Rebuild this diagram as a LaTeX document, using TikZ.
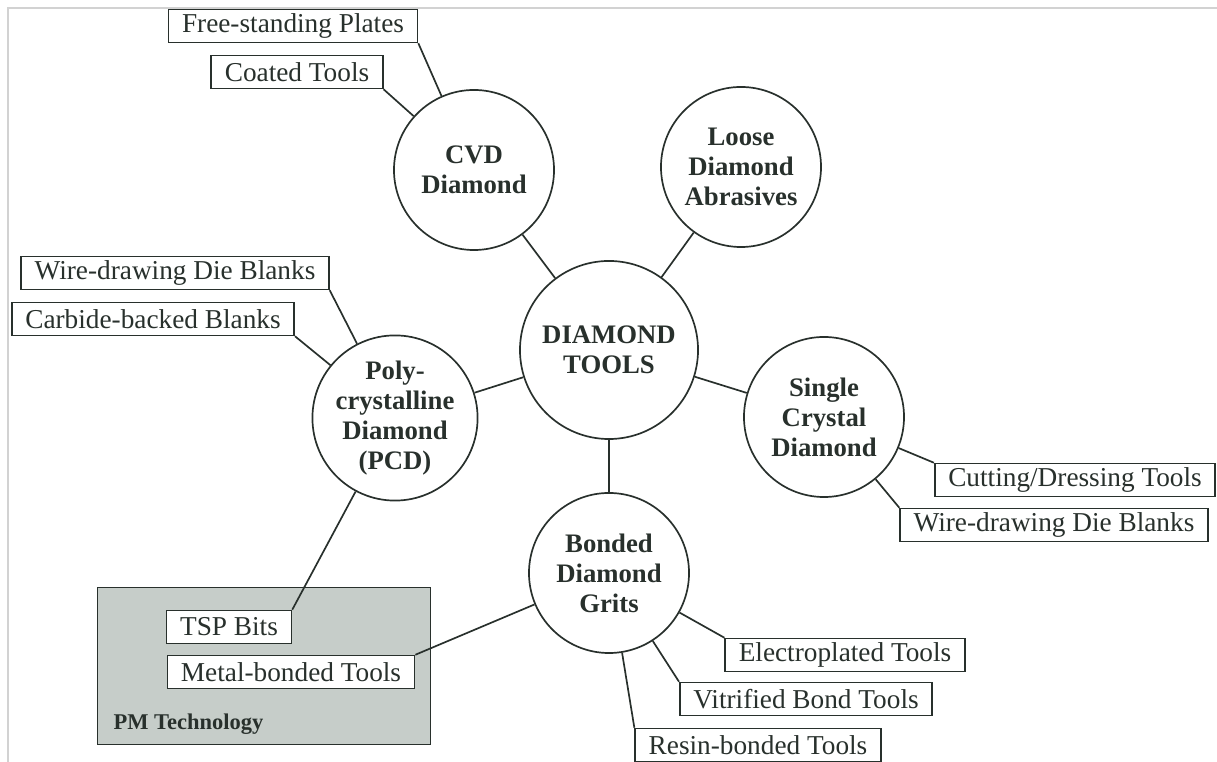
\documentclass[tikz,border=0pt]{standalone}
\usepackage{fontspec}
\setmainfont{Liberation Serif}
\usepackage{tikz}
\usepackage{xcolor}

\definecolor{ink}{RGB}{40,48,44}
\definecolor{pmfill}{RGB}{198,205,201}
\definecolor{framegray}{RGB}{210,210,210}

\begin{document}
\begin{tikzpicture}[
    x=0.0125cm, y=-0.0125cm,
    topic/.style={circle, draw=ink, line width=0.6pt, minimum size=2cm, inner sep=0pt, align=center, text=ink, font=\fontsize{9.5}{10.7}\selectfont\bfseries},
    hub/.style={topic, minimum size=2.225cm},
    tool/.style={rectangle, draw=ink, line width=0.6pt, fill=white, minimum height=0.41cm, inner xsep=4.8pt, inner ysep=0pt, text=ink, font=\fontsize{9.7}{11}\selectfont},
    pmbox/.style={rectangle, draw=ink, line width=0.6pt, fill=pmfill, minimum width=4.16cm, minimum height=1.96cm},
    link/.style={draw=ink, line width=0.6pt}
]
\useasboundingbox (0,0) rectangle (1217,762);

% Frame
\draw[framegray, line width=0.6pt] (8,762) -- (8,8) -- (1217,8);

% PM technology area
\node[pmbox] (pm_tech) at (264,666) {};
\node[anchor=base west, inner sep=0pt, text=ink, font=\fontsize{8}{9}\selectfont\bfseries] (pm_label) at (113,730) {PM Technology};

% Circles
\node[hub] (diamond_tools) at (609,350) {DIAMOND\\TOOLS};
\node[topic] (cvd) at (474,170) {CVD\\Diamond};
\node[topic] (loose) at (741,167) {Loose\\Diamond\\Abrasives};
\node[topic] (pcd) at (395,418) {Poly-\\crystalline\\Diamond\\(PCD)};
\node[topic] (single) at (824,417) {Single\\Crystal\\Diamond};
\node[topic] (bonded) at (609,573) {Bonded\\Diamond\\Grits};

% CVD products
\node[tool] (free_plates) at (293,26) {Free-standing Plates};
\node[tool] (coated) at (297,72) {Coated Tools};

% PCD products
\node[tool] (wire_pcd) at (175,273) {Wire-drawing Die Blanks};
\node[tool] (carbide) at (153,319) {Carbide-backed Blanks};
\node[tool] (tsp) at (229,627) {TSP Bits};

% Single crystal products
\node[tool] (cutting) at (1075,480) {Cutting/Dressing Tools};
\node[tool] (wire_single) at (1054,525) {Wire-drawing Die Blanks};

% Bonded grit products
\node[tool] (metal) at (291,672) {Metal-bonded Tools};
\node[tool] (electro) at (845,655) {Electroplated Tools};
\node[tool] (vitrified) at (806,699) {Vitrified Bond Tools};
\node[tool] (resin) at (758,745) {Resin-bonded Tools};

% Hub links
\draw[link] (diamond_tools) -- (cvd);
\draw[link] (diamond_tools) -- (loose);
\draw[link] (diamond_tools) -- (pcd);
\draw[link] (diamond_tools) -- (single);
\draw[link] (diamond_tools) -- (bonded);

% Product links
\draw[link] (free_plates.south east) -- (cvd);
\draw[link] (coated.south east) -- (cvd);
\draw[link] (wire_pcd.south east) -- (pcd);
\draw[link] (carbide.south east) -- (pcd);
\draw[link] (tsp.north east) -- (pcd);
\draw[link] (cutting.north west) -- (single);
\draw[link] (wire_single.north west) -- (single);
\draw[link] (metal.north east) -- (bonded);
\draw[link] (electro.north west) -- (bonded);
\draw[link] (vitrified.north west) -- (bonded);
\draw[link] (resin.north west) -- (bonded);

\end{tikzpicture}
\end{document}
